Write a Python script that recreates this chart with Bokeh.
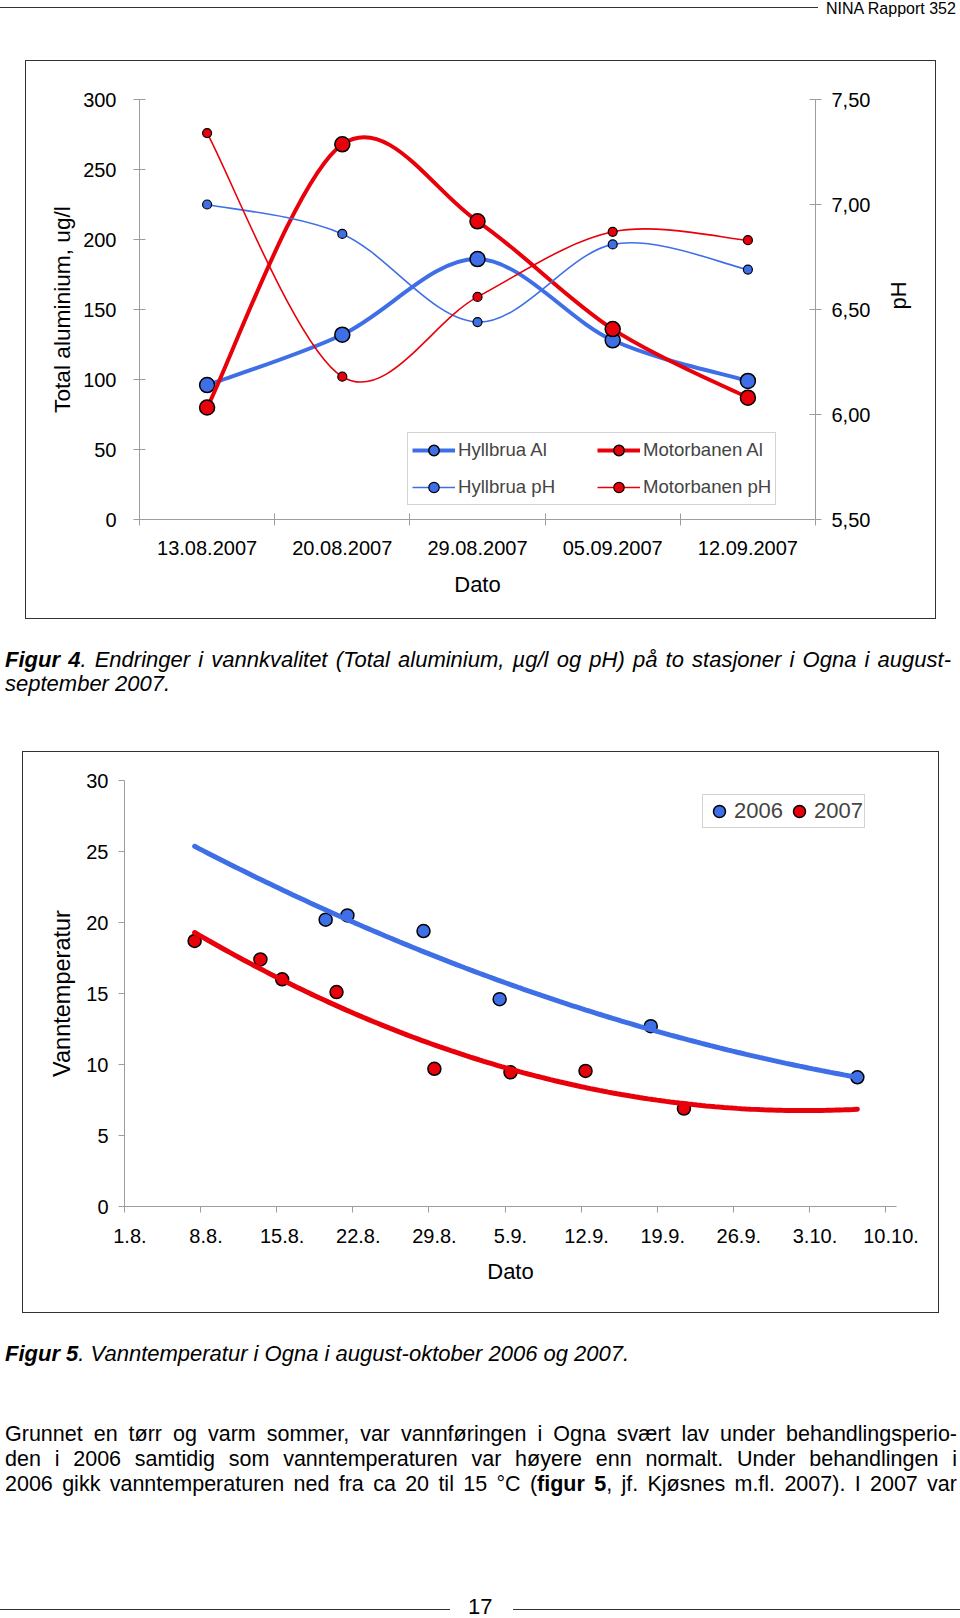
import math
import numpy as np
from bokeh.plotting import figure
from bokeh.models import (Range1d, LinearAxis, FixedTicker, Legend, LegendItem,
                          Div, Spacer)
from bokeh.layouts import column, row
from bokeh.embed import file_html
from bokeh.resources import INLINE

FONT = "Liberation Sans"
CSS_FONT = "'Liberation Sans', Arial, sans-serif"
BLUE = "#3f6fe6"
RED = "#e8000a"
AXIS_GREY = "#9d9d9d"
BOX = "1.5px solid #333333"

# ---------------- Figur 4 data ----------------
dates4 = ["13.08.2007", "20.08.2007", "29.08.2007", "05.09.2007", "12.09.2007"]
hyllbrua_al = [96, 132, 186, 128, 99]
motorbanen_al = [80, 268, 213, 136, 87]
hyllbrua_ph = [7.00, 6.86, 6.44, 6.81, 6.69]
motorbanen_ph = [7.34, 6.18, 6.56, 6.87, 6.83]
al_ticks = [0, 50, 100, 150, 200, 250, 300]
ph_ticks = [5.5, 6.0, 6.5, 7.0, 7.5]
ph_tick_labels = ["5,50", "6,00", "6,50", "7,00", "7,50"]

# ---------------- Figur 5 data (days after 1.8.) ----------------
days_2006 = [18.5, 20.5, 27.5, 34.5, 48.4, 67.4]
temp_2006 = [20.2, 20.5, 19.4, 14.6, 12.7, 9.1]
days_2007 = [6.45, 12.5, 14.5, 19.5, 28.5, 35.5, 42.4, 51.45]
temp_2007 = [18.7, 17.4, 16.0, 15.1, 9.7, 9.45, 9.55, 6.9]
date_ticks = [0, 7, 14, 21, 28, 35, 42, 49, 56, 63, 70]
date_labels = ["1.8.", "8.8.", "15.8.", "22.8.", "29.8.", "5.9.", "12.9.",
               "19.9.", "26.9.", "3.10.", "10.10."]
temp_ticks = [0, 5, 10, 15, 20, 25, 30]


def smooth_segments(xs, ys):
    """Bezier control points for an Excel-like smoothed line."""
    n = len(xs)
    out = dict(x0=[], y0=[], x1=[], y1=[], cx0=[], cy0=[], cx1=[], cy1=[])
    for i in range(n - 1):
        i0 = max(i - 1, 0)
        i3 = min(i + 2, n - 1)
        out["x0"].append(xs[i]); out["y0"].append(ys[i])
        out["x1"].append(xs[i + 1]); out["y1"].append(ys[i + 1])
        out["cx0"].append(xs[i] + (xs[i + 1] - xs[i0]) / 6.0)
        out["cy0"].append(ys[i] + (ys[i + 1] - ys[i0]) / 6.0)
        out["cx1"].append(xs[i + 1] - (xs[i3] - xs[i]) / 6.0)
        out["cy1"].append(ys[i + 1] - (ys[i3] - ys[i]) / 6.0)
    return out


def style_axis(ax, size="20px", title_size="22px"):
    ax.axis_line_color = AXIS_GREY
    ax.axis_line_width = 1
    ax.major_tick_line_color = AXIS_GREY
    ax.minor_tick_line_color = AXIS_GREY
    ax.major_label_text_font = FONT
    ax.major_label_text_font_size = size
    ax.major_label_text_color = "black"
    ax.axis_label_text_font = FONT
    ax.axis_label_text_font_size = title_size
    ax.axis_label_text_font_style = "normal"
    ax.axis_label_text_color = "black"


# ======================= Figure 4 =======================
xc = [i + 0.5 for i in range(len(dates4))]
p1 = figure(width=909, height=557, x_range=Range1d(0, len(dates4)), y_range=Range1d(0, 300),
            output_backend="svg", toolbar_location=None,
            min_border_left=113, min_border_right=120, min_border_top=38, min_border_bottom=99)
p1.extra_y_ranges = {"ph": Range1d(5.5, 7.5)}
p1.xgrid.visible = False
p1.ygrid.visible = False
p1.outline_line_color = None
p1.styles = {"outline": BOX}

xa = p1.xaxis[0]
style_axis(xa)
xa.ticker = FixedTicker(ticks=xc, minor_ticks=list(range(len(dates4) + 1)))
xa.major_label_overrides = {x: d for x, d in zip(xc, dates4)}
xa.major_tick_line_color = None
xa.major_tick_in = 0
xa.major_tick_out = 6
xa.minor_tick_in = 6
xa.minor_tick_out = 6
xa.major_label_standoff = 15
xa.axis_label = "Dato"
xa.axis_label_standoff = 14

ya = p1.yaxis[0]
style_axis(ya, title_size="22.7px")
ya.ticker = FixedTicker(ticks=al_ticks)
ya.major_tick_in = 6
ya.major_tick_out = 6
ya.minor_tick_line_color = None
ya.major_label_standoff = 17
ya.axis_label = "Total aluminium, ug/l"
ya.axis_label_standoff = 5

yr = LinearAxis(y_range_name="ph", ticker=FixedTicker(ticks=ph_ticks),
                major_label_overrides=dict(zip(ph_ticks, ph_tick_labels)))
style_axis(yr)
yr.major_tick_in = 6
yr.major_tick_out = 6
yr.minor_tick_line_color = None
yr.major_label_standoff = 10
yr.axis_label = "pH"
yr.axis_label_standoff = 25
try:
    yr.axis_label_orientation = math.pi / 2
except Exception:
    pass
p1.add_layout(yr, "right")


def series(p, xs, ys, color, lw, msize, mlw, rng="default"):
    seg = smooth_segments(xs, ys)
    p.bezier(x0=seg["x0"], y0=seg["y0"], x1=seg["x1"], y1=seg["y1"],
             cx0=seg["cx0"], cy0=seg["cy0"], cx1=seg["cx1"], cy1=seg["cy1"],
             line_color=color, line_width=lw, line_cap="round", y_range_name=rng)
    # one-point line: invisible in the plot, supplies the line swatch of the legend
    leg_line = p.line(x=xs[:1], y=ys[:1], line_color=color, line_width=lw, y_range_name=rng)
    sc = p.scatter(xs, ys, size=msize, fill_color=color, line_color="black",
                   line_width=mlw, y_range_name=rng)
    return [leg_line, sc]


r_hal = series(p1, xc, hyllbrua_al, BLUE, 4, 15, 1.5)
r_mal = series(p1, xc, motorbanen_al, RED, 4, 15, 1.5)
r_hph = series(p1, xc, hyllbrua_ph, BLUE, 1.6, 9, 1.2, "ph")
r_mph = series(p1, xc, motorbanen_ph, RED, 1.6, 9, 1.2, "ph")

leg1 = Legend(items=[LegendItem(label="Hyllbrua Al", renderers=r_hal),
                     LegendItem(label="Motorbanen Al", renderers=r_mal),
                     LegendItem(label="Hyllbrua pH", renderers=r_hph),
                     LegendItem(label="Motorbanen pH", renderers=r_mph)],
              location=(268, 14), orientation="horizontal", ncols=2,
              glyph_width=43, glyph_height=26, label_height=26, label_width=128,
              label_standoff=3, spacing=11, padding=4, margin=0,
              border_line_color="#a8a8a8", border_line_width=1,
              label_text_font=FONT, label_text_font_size="18.6px",
              background_fill_color="white", background_fill_alpha=1)
p1.add_layout(leg1)

# ======================= Figure 5 =======================
p2 = figure(width=915, height=560, x_range=Range1d(0, 71), y_range=Range1d(0, 30),
            output_backend="svg", toolbar_location=None,
            min_border_left=101, min_border_right=42, min_border_top=28, min_border_bottom=106)
p2.xgrid.visible = False
p2.ygrid.visible = False
p2.outline_line_color = None
p2.styles = {"outline": BOX}

xb = p2.xaxis[0]
style_axis(xb)
label_pos = [d + 0.5 for d in date_ticks]
xb.ticker = FixedTicker(ticks=label_pos, minor_ticks=date_ticks)
xb.major_label_overrides = {x: l for x, l in zip(label_pos, date_labels)}
xb.major_tick_line_color = None
xb.major_tick_in = 0
xb.major_tick_out = 6
xb.minor_tick_in = 0
xb.minor_tick_out = 6
xb.major_label_standoff = 16
xb.axis_label = "Dato"
xb.axis_label_standoff = 13

yb = p2.yaxis[0]
style_axis(yb, title_size="23.5px")
yb.ticker = FixedTicker(ticks=temp_ticks)
yb.major_tick_in = 0
yb.major_tick_out = 6
yb.minor_tick_line_color = None
yb.major_label_standoff = 10
yb.axis_label = "Vanntemperatur"
yb.axis_label_standoff = 8

s06 = p2.scatter(days_2006, temp_2006, size=13, fill_color=BLUE, line_color="black", line_width=1.5)
s07 = p2.scatter(days_2007, temp_2007, size=13, fill_color=RED, line_color="black", line_width=1.5)

all_days = days_2006 + days_2007
xfit = np.linspace(min(all_days), max(all_days), 150)
c06 = np.polyfit(days_2006, temp_2006, 2)
c07 = np.polyfit(days_2007, temp_2007, 2)
p2.line(xfit, np.polyval(c06, xfit), line_color=BLUE, line_width=5, line_cap="round")
p2.line(xfit, np.polyval(c07, xfit), line_color=RED, line_width=5, line_cap="round")

leg2 = Legend(items=[LegendItem(label="2006", renderers=[s06]),
                     LegendItem(label="2007", renderers=[s07])],
              location=(578, 378), orientation="horizontal",
              glyph_width=30, glyph_height=30, label_height=30,
              label_standoff=0, spacing=1, padding=1, margin=0,
              border_line_color="#a8a8a8", border_line_width=1,
              label_text_font=FONT, label_text_font_size="22px",
              background_fill_color="white", background_fill_alpha=1)
p2.add_layout(leg2)


# ======================= page text =======================
def txt(left, baseline, size, html, extra="", width=None, lh=None):
    lh = lh if lh is not None else size
    top = baseline - (lh / 2.0 + 0.3465 * size)
    w = f"width:{width}px;" if width else "white-space:nowrap;"
    return (f'<div style="position:absolute;left:{left}px;top:{top:.1f}px;{w}'
            f'font-family:{CSS_FONT};font-size:{size}px;line-height:{lh}px;color:#000;{extra}">'
            f'{html}</div>')


def hline(left, top, width, thick=1.5, color="#333"):
    return (f'<div style="position:absolute;left:{left}px;top:{top}px;width:{width}px;'
            f'height:{thick}px;background:{color};"></div>')


def box(w, h, inner):
    return f'<div style="position:relative;width:{w}px;height:{h}px;">{inner}</div>'


JUST = "text-align:justify;text-align-last:justify;"
PAGE_W = 960

header = Div(text=box(PAGE_W, 61, hline(0, 6.5, 818) +
                      txt(826, 14, 16, "NINA Rapport 352")),
             width=PAGE_W, height=61, margin=0, styles={"overflow": "visible"})

cap4 = Div(text=box(PAGE_W, 134,
                    txt(5, 50, 22, "<b>Figur 4</b>. Endringer i vannkvalitet (Total aluminium, "
                        "µg/l og pH) på to stasjoner i Ogna i august-", "font-style:italic;" + JUST, 946) +
                    txt(5, 74, 22, "september 2007.", "font-style:italic;")),
           width=PAGE_W, height=134, margin=0, styles={"overflow": "visible"})

body_lines = [
    "Grunnet en tørr og varm sommer, var vannføringen i Ogna svært lav under behandlingsperio-",
    "den i 2006 samtidig som vanntemperaturen var høyere enn normalt. Under behandlingen i",
    "2006 gikk vanntemperaturen ned fra ca 20 til 15 °C (<b>figur 5</b>, jf. Kjøsnes m.fl. 2007). I 2007 var",
]
bottom_inner = txt(5, 50, 22, "<b>Figur 5</b>. Vanntemperatur i Ogna i august-oktober 2006 og 2007.",
                   "font-style:italic;")
for k, line in enumerate(body_lines):
    bottom_inner += txt(5, 129.7 + 25 * k, 21.5, line, JUST, 952)
bottom_inner += hline(0, 296.5, 450) + hline(513, 296.5, 447)
bottom_inner += txt(468, 303, 22, "17", lh=16)
bottom = Div(text=box(PAGE_W, 306, bottom_inner), width=PAGE_W, height=306, margin=0,
             styles={"overflow": "visible"})

layout = column(header,
                row(Spacer(width=26, height=557), p1),
                cap4,
                row(Spacer(width=23, height=560), p2),
                bottom)

open("out.html", "w").write(file_html(layout, INLINE))
